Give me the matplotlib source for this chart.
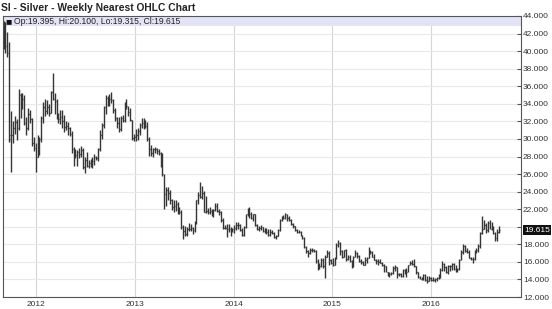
import matplotlib
matplotlib.use("Agg")
import matplotlib.pyplot as plt
import matplotlib.dates as mdates
import matplotlib.transforms as mtransforms
from matplotlib.patches import Rectangle
from matplotlib.ticker import FuncFormatter
import numpy as np
import pandas as pd

# Weekly silver OHLC, Sep 2011 - Sep 2016
first_week = "2011-09-02"

opens = [
    # 2011
    41.0, 42.6, 40.6, 39.8, 30.0, 30.4, 31.2, 31.9, 31.2, 35.0, 34.2, 34.5, 31.8, 31.3, 32.8, 32.3, 29.5, 29.0,
    # 2012
    28.0, 28.6, 30.0, 32.4, 33.6, 33.2, 33.6, 33.0, 35.3, 34.6, 34.3, 32.6, 32.3, 32.5, 32.0, 31.4, 31.5, 31.3,
    30.6, 28.9, 28.6, 28.2, 28.5, 28.3, 28.7, 26.8, 27.6, 26.9, 27.3, 27.4, 27.5, 28.0, 27.8, 28.9, 30.5, 31.6,
    33.6, 34.7, 34.3, 34.6, 34.4, 33.3, 32.4, 31.8, 31.1, 32.4, 32.2, 34.1, 33.7, 33.1, 32.1, 30.1, 30.2,
    # 2013
    30.5, 30.9, 31.6, 31.8, 32.0, 31.5, 30.0, 28.8, 28.4, 28.9, 28.8, 28.6, 28.4, 27.4, 25.8, 23.7, 24.2, 23.8,
    23.1, 22.3, 22.4, 22.6, 21.6, 21.7, 20.0, 19.5, 19.2, 19.8, 19.7, 19.9, 19.6, 20.4, 23.0, 23.6, 23.4, 23.9,
    21.7, 21.8, 21.7, 21.8, 21.5, 21.9, 22.4, 21.8, 21.7, 20.8, 19.9, 19.9, 19.7, 19.8, 19.6, 19.7,
    # 2014
    19.9, 20.2, 20.2, 19.6, 19.1, 20.0, 21.4, 21.7, 21.4, 21.0, 21.4, 20.2, 19.8, 19.9, 20.0, 19.5, 19.8, 19.4,
    19.1, 19.4, 19.3, 18.8, 19.0, 19.6, 20.8, 21.0, 21.0, 21.4, 21.0, 20.8, 20.3, 20.1, 19.6, 19.4, 19.4, 19.0,
    18.7, 17.7, 17.2, 17.0, 17.3, 17.3, 17.2, 16.1, 15.8, 15.5, 16.2, 15.5, 16.5, 17.0, 16.2, 15.9,
    # 2015
    15.7, 16.4, 17.9, 18.2, 17.2, 16.5, 17.4, 16.3, 16.6, 16.1, 15.4, 16.6, 17.0, 16.7, 16.1, 16.0, 15.7, 16.2,
    16.4, 17.2, 17.1, 16.6, 16.2, 16.1, 16.0, 15.9, 15.6, 15.5, 14.8, 14.7, 14.6, 14.7, 15.3, 15.4, 14.6, 14.6,
    14.4, 15.1, 15.2, 14.8, 15.7, 15.9, 15.8, 15.5, 14.8, 14.3, 14.1, 14.2, 14.5, 13.9, 13.8, 14.2,
    # 2016
    13.9, 13.9, 14.0, 14.2, 14.3, 15.1, 15.8, 15.4, 14.8, 15.5, 15.5, 15.8, 15.2, 15.0, 15.2, 16.2, 17.1, 17.8,
    17.2, 17.1, 16.4, 16.3, 16.3, 17.3, 17.3, 17.8, 19.3, 19.8, 20.2, 19.6, 20.4, 19.8, 19.9, 19.3, 18.7, 19.395,
]

highs = [
    # 2011
    43.4, 43.3, 42.2, 41.0, 33.2, 32.0, 32.6, 32.3, 35.7, 35.2, 35.2, 35.0, 32.5, 33.5, 33.3, 32.4, 30.2, 29.5,
    # 2012
    30.4, 30.2, 32.6, 34.2, 34.5, 34.4, 34.0, 35.5, 37.5, 35.2, 34.6, 33.0, 33.3, 33.3, 32.7, 32.0, 31.9, 31.4,
    30.9, 29.1, 28.9, 28.7, 29.0, 29.2, 29.0, 27.9, 28.5, 27.6, 27.7, 28.0, 28.3, 28.1, 29.0, 31.0, 31.8, 33.7,
    35.0, 34.9, 35.1, 35.4, 34.5, 33.5, 32.5, 32.5, 32.6, 32.7, 34.2, 34.6, 33.8, 33.5, 32.2, 30.6, 31.1,
    # 2013
    31.2, 31.8, 32.4, 32.4, 32.2, 31.9, 30.2, 29.3, 29.0, 29.1, 29.0, 28.8, 28.5, 28.4, 26.0, 24.5, 24.5, 24.2,
    23.2, 23.0, 23.0, 22.8, 22.3, 21.9, 20.2, 20.1, 20.0, 20.4, 20.3, 20.0, 20.6, 23.1, 24.0, 25.1, 24.6, 24.1,
    23.5, 22.1, 22.2, 22.0, 22.0, 22.7, 22.7, 22.0, 21.8, 21.0, 20.2, 20.3, 20.3, 20.0, 19.9, 20.2,
    # 2014
    20.5, 20.5, 20.3, 19.9, 20.1, 21.5, 22.1, 22.2, 21.7, 21.5, 21.4, 20.3, 20.1, 20.2, 20.0, 19.9, 19.9, 19.7,
    19.8, 19.6, 19.4, 19.1, 19.8, 20.9, 21.2, 21.3, 21.6, 21.5, 21.2, 20.9, 20.4, 20.1, 19.8, 19.6, 19.5, 19.1,
    18.8, 17.8, 17.4, 17.6, 17.6, 17.5, 17.3, 16.3, 15.9, 16.4, 16.4, 16.8, 17.3, 17.2, 16.3, 16.4,
    # 2015
    16.5, 18.2, 18.5, 18.3, 17.4, 17.4, 17.5, 16.8, 16.8, 16.2, 16.7, 17.3, 17.1, 16.8, 16.3, 16.1, 16.5, 16.5,
    17.7, 17.3, 17.2, 16.9, 16.3, 16.3, 16.3, 16.0, 15.8, 15.5, 14.9, 14.9, 14.9, 15.5, 15.6, 15.4, 14.7, 14.7,
    15.2, 15.2, 15.3, 15.7, 16.1, 16.2, 16.3, 15.5, 14.9, 14.4, 14.3, 14.6, 14.6, 14.4, 14.4, 14.3,
    # 2016
    14.3, 14.2, 14.3, 14.6, 15.3, 16.1, 15.9, 15.5, 15.6, 15.7, 15.9, 15.9, 15.6, 15.3, 16.3, 17.3, 18.0, 17.9,
    17.6, 17.3, 16.6, 16.5, 17.4, 17.6, 18.0, 19.4, 21.2, 20.8, 20.4, 20.6, 20.8, 20.5, 20.1, 19.4, 19.7, 20.1,
]

lows = [
    # 2011
    40.2, 39.8, 39.3, 29.6, 26.2, 29.5, 30.6, 29.9, 31.0, 32.4, 33.4, 31.6, 30.5, 31.0, 31.8, 29.2, 28.6, 26.2,
    # 2012
    27.9, 28.2, 29.6, 31.8, 32.6, 32.8, 32.6, 33.0, 34.4, 32.8, 32.3, 31.8, 31.7, 31.3, 30.8, 31.0, 30.5, 30.3,
    28.4, 26.9, 27.8, 26.9, 27.8, 27.9, 26.6, 26.1, 26.8, 26.7, 26.8, 26.7, 27.0, 27.6, 27.5, 28.6, 30.0, 31.3,
    32.8, 33.8, 33.8, 34.1, 33.0, 32.0, 31.2, 30.8, 30.9, 31.9, 31.9, 33.4, 32.6, 32.0, 29.9, 29.8, 29.8,
    # 2013
    29.9, 30.4, 31.2, 31.1, 31.2, 29.8, 28.1, 28.1, 28.0, 28.4, 28.3, 28.2, 26.8, 25.8, 22.0, 22.4, 23.1, 22.6,
    21.9, 21.7, 21.8, 21.4, 21.4, 19.7, 18.6, 18.9, 18.9, 19.5, 19.5, 19.2, 19.4, 20.3, 22.6, 23.3, 23.2, 21.7,
    21.6, 21.5, 21.4, 21.2, 21.1, 21.8, 21.7, 21.3, 20.5, 19.8, 19.7, 18.8, 19.4, 19.0, 19.4, 19.3,
    # 2014
    19.6, 19.8, 19.5, 18.9, 19.0, 19.9, 21.2, 21.0, 20.9, 20.6, 20.1, 19.6, 19.5, 19.6, 19.4, 19.3, 19.2, 18.9,
    19.0, 19.2, 18.7, 18.6, 18.9, 19.5, 20.6, 20.9, 20.9, 20.6, 20.6, 20.2, 19.9, 19.5, 19.3, 19.3, 18.9, 18.6,
    17.6, 17.0, 16.6, 16.9, 17.1, 17.1, 15.9, 15.1, 15.2, 15.4, 15.3, 14.2, 16.5, 15.6, 15.8, 15.5,
    # 2015
    15.6, 16.3, 17.7, 16.8, 16.4, 16.5, 16.1, 16.2, 16.0, 15.3, 15.4, 16.6, 16.4, 16.0, 15.8, 15.7, 15.6, 15.9,
    16.4, 16.9, 16.5, 16.2, 15.8, 15.7, 15.9, 15.5, 14.9, 14.8, 14.4, 14.3, 14.5, 14.6, 15.0, 14.2, 14.4, 14.3,
    14.3, 14.6, 14.3, 14.8, 15.6, 15.6, 15.4, 14.6, 14.2, 14.0, 13.9, 13.9, 13.8, 13.6, 13.8, 13.8,
    # 2016
    13.8, 13.7, 13.8, 14.1, 14.2, 15.0, 15.0, 14.7, 14.6, 15.0, 15.1, 15.1, 14.9, 14.9, 15.1, 16.2, 16.9, 17.1,
    17.0, 16.4, 16.2, 15.9, 16.2, 17.0, 17.1, 17.6, 19.2, 19.8, 19.3, 19.4, 19.7, 19.6, 19.2, 18.4, 18.4, 19.315,
]

closes = [
    # 2011
    42.6, 40.6, 39.8, 30.4, 30.4, 31.2, 31.9, 31.2, 35.0, 34.2, 34.5, 31.8, 31.3, 32.8, 32.3, 29.5, 29.0, 28.0,
    # 2012
    28.6, 30.0, 32.4, 33.6, 33.2, 33.6, 33.0, 35.3, 34.6, 34.3, 32.6, 32.3, 32.5, 32.0, 31.4, 31.5, 31.3, 30.6,
    28.9, 28.6, 28.2, 28.5, 28.3, 28.7, 26.8, 27.6, 26.9, 27.3, 27.4, 27.5, 28.0, 27.8, 28.9, 30.5, 31.6, 33.6,
    34.7, 34.3, 34.6, 34.4, 33.3, 32.4, 31.8, 31.1, 32.4, 32.2, 34.1, 33.7, 33.1, 32.1, 30.1, 30.2, 30.5,
    # 2013
    30.9, 31.6, 31.8, 32.0, 31.5, 30.0, 28.8, 28.4, 28.9, 28.8, 28.6, 28.4, 27.4, 26.0, 23.7, 24.2, 23.8, 23.1,
    22.3, 22.4, 22.6, 21.6, 21.7, 20.0, 19.5, 19.2, 19.8, 19.7, 19.9, 19.6, 20.4, 23.0, 23.6, 23.4, 23.9, 21.7,
    21.8, 21.7, 21.8, 21.5, 21.9, 22.4, 21.8, 21.7, 20.8, 19.9, 19.9, 19.7, 19.8, 19.6, 19.7, 19.9,
    # 2014
    20.2, 20.2, 19.6, 19.1, 20.0, 21.4, 21.7, 21.4, 21.0, 21.4, 20.2, 19.8, 19.9, 20.0, 19.5, 19.8, 19.4, 19.1,
    19.4, 19.3, 18.8, 19.0, 19.6, 20.8, 21.0, 21.0, 21.4, 21.0, 20.8, 20.3, 20.1, 19.6, 19.4, 19.4, 19.0, 18.7,
    17.7, 17.2, 17.0, 17.3, 17.3, 17.2, 16.1, 15.8, 15.5, 16.2, 15.5, 16.5, 17.0, 16.2, 15.9, 15.7,
    # 2015
    16.4, 17.9, 18.2, 17.2, 16.5, 17.4, 16.3, 16.6, 16.1, 15.4, 16.6, 17.0, 16.7, 16.1, 16.0, 15.7, 16.2, 16.4,
    17.2, 17.1, 16.6, 16.2, 16.1, 16.0, 15.9, 15.6, 15.5, 14.8, 14.7, 14.6, 14.7, 15.3, 15.4, 14.6, 14.6, 14.4,
    15.1, 15.2, 14.8, 15.7, 15.9, 15.8, 15.5, 14.8, 14.3, 14.1, 14.2, 14.5, 13.9, 13.8, 14.2, 13.9,
    # 2016
    13.9, 14.0, 14.2, 14.3, 15.1, 15.8, 15.4, 14.8, 15.5, 15.5, 15.8, 15.2, 15.0, 15.2, 16.2, 17.1, 17.8, 17.2,
    17.1, 16.4, 16.3, 16.3, 17.3, 17.3, 17.8, 19.3, 19.8, 20.2, 19.6, 20.4, 19.8, 19.9, 19.3, 18.7, 19.4, 19.615,
]

years = [2012, 2013, 2014, 2015, 2016]
y_ticks = list(range(12, 45, 2))

plt.rcParams['font.family'] = ['Liberation Sans', 'DejaVu Sans']

W, H = 552, 309
fig = plt.figure(figsize=(W / 100, H / 100), dpi=100, facecolor='white')
left, right, top, bottom = 3, 521, 16, 297
ax = fig.add_axes([left / W, 1 - bottom / H, (right - left) / W, (bottom - top) / H])

dates = pd.date_range(first_week, periods=len(closes), freq='W-FRI')
x = mdates.date2num(dates)
bar_col = '#353535'
ax.vlines(x, lows, highs, color=bar_col, lw=1.0, zorder=3)
ax.hlines(opens, x - 2.5, x, color=bar_col, lw=0.9, zorder=3)
ax.hlines(closes, x, x + 2.5, color=bar_col, lw=0.9, zorder=3)

ax.set_ylim(12, 44)
ax.set_xlim(mdates.date2num(pd.Timestamp('2011-08-31')),
            mdates.date2num(pd.Timestamp('2016-11-29')))

# axes styling
ax.set_axisbelow(True)
ax.yaxis.tick_right()
ax.set_yticks(y_ticks)
last = closes[-1]
ax.yaxis.set_major_formatter(FuncFormatter(
    lambda v, _: '' if abs(v - round(last)) < 1e-6 else f'{v:.3f}'))
ax.set_xticks(mdates.date2num([pd.Timestamp(f'{y}-01-01') for y in years]))
ax.set_xticklabels([str(y) for y in years])
ax.tick_params(axis='y', direction='in', length=3, width=0.8, color='#555555',
               labelsize=6, labelcolor='#333333', pad=1.5)
ax.tick_params(axis='x', length=0, labelsize=6, labelcolor='#333333', pad=3)
ax.grid(axis='y', color='#e8e8e8', lw=0.8)
ax.grid(axis='x', color='#d6d6d6', lw=0.8)
for s in ax.spines.values():
    s.set_color('#555555')
    s.set_linewidth(0.8)

# legend band at the top of the plot
band_h = 10 / (bottom - top)
ax.add_patch(Rectangle((0, 1 - band_h), 1, band_h, transform=ax.transAxes,
                       fc='#e3e3f7', ec='none', zorder=1))
ax.text(0.005, 1 - band_h / 2, '\u25a0', transform=ax.transAxes, va='center',
        ha='left', fontsize=7.5, color='#111111', zorder=4)
ax.text(0.022, 1 - band_h / 2,
        f'Op:{opens[-1]:.3f}, Hi:{highs[-1]:.3f}, Lo:{lows[-1]:.3f}, Cl:{closes[-1]:.3f}',
        transform=ax.transAxes, va='center', ha='left', fontsize=6.2, color='#222222', zorder=4)

# last price marker on the right axis
trans = mtransforms.blended_transform_factory(ax.transAxes, ax.transData)
ax.text(1.006, last, f'{last:.3f}', transform=trans, va='center', ha='left',
        fontsize=6, color='white', clip_on=False, zorder=6,
        bbox=dict(boxstyle='square,pad=0.15', fc='#111111', ec='none'))

fig.text(1 / W, 1 - 8 / H, 'SI - Silver - Weekly Nearest OHLC Chart',
         fontsize=7.4, fontweight='bold', color='#222222', va='center', ha='left')

fig.savefig('out.png', dpi=100)
